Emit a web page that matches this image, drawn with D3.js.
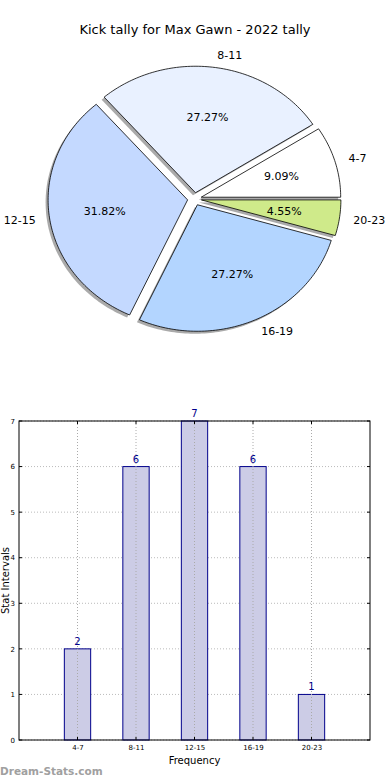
<!DOCTYPE html>
<html>
<head>
<meta charset="utf-8">
<script src="https://cdn.jsdelivr.net/npm/d3@7"></script>
<style>
  body { margin: 0; background: #fff; }
  svg { display: block; font-family: "DejaVu Sans", sans-serif; }
</style>
</head>
<body>
<div id="chart"></div>
<script>
// chart data
const categories = ["4-7", "8-11", "12-15", "16-19", "20-23"];
const counts = [2, 6, 7, 6, 1];
const sliceColors = ["#ffffff", "#e9f1ff", "#c4d9ff", "#b3d5ff", "#cfea8a"];
const yTicks = [0, 1, 2, 3, 4, 5, 6, 7];

const W = 390, H = 780;
const svg = d3.select("#chart").append("svg")
    .attr("width", W)
    .attr("height", H);

// title
svg.append("text")
    .attr("x", 195)
    .attr("y", 34)
    .attr("text-anchor", "middle")
    .style("font-size", "13px")
    .text("Kick tally for Max Gawn - 2022 tally");

// ---- pie (matplotlib style: starts at east, counter-clockwise, elliptical) ----
const cx = 194.5, cy = 199, rx = 139.5, ry = 126.5, explode = 0.05;
const total = d3.sum(counts);

// d3.pie just gives the angular spans; read them as ccw from east
const pie = d3.pie().sort(null).value(d => d)
    .startAngle(0).endAngle(2 * Math.PI);
const arcs = pie(counts);

// wedge on the unit circle, stretched to the ellipse
function wedgePath(a0, a1) {
    const pts = [[0, 0]];
    const n = Math.max(8, Math.ceil((a1 - a0) / 0.02));
    for (let i = 0; i <= n; i++) {
        const a = a0 + (a1 - a0) * i / n;
        pts.push([Math.cos(a), Math.sin(a)]);
    }
    return d3.line().x(p => p[0] * rx).y(p => -p[1] * ry).curve(d3.curveLinearClosed)(pts);
}

const slices = arcs.map((d, i) => {
    const a0 = d.startAngle, a1 = d.endAngle;
    return { i, a0, a1, mid: (a0 + a1) / 2, value: d.value };
});

const pieG = svg.append("g");

// shadows first
slices.forEach(s => {
    const ox = explode * rx * Math.cos(s.mid), oy = -explode * ry * Math.sin(s.mid);
    pieG.append("path")
        .attr("transform", `translate(${cx + ox - 2.5},${cy + oy + 2.5})`)
        .attr("d", wedgePath(s.a0, s.a1))
        .attr("fill", "#555")
        .attr("opacity", 0.5);
});

slices.forEach(s => {
    const ox = explode * rx * Math.cos(s.mid), oy = -explode * ry * Math.sin(s.mid);
    pieG.append("path")
        .attr("transform", `translate(${cx + ox},${cy + oy})`)
        .attr("d", wedgePath(s.a0, s.a1))
        .attr("fill", sliceColors[s.i])
        .attr("stroke", "#000")
        .attr("stroke-width", 0.8);
});

// labels and percentages
slices.forEach(s => {
    const c = Math.cos(s.mid), sn = Math.sin(s.mid);
    pieG.append("text")
        .attr("x", cx + (1.1 + explode) * rx * c)
        .attr("y", cy - (1.1 + explode) * ry * sn)
        .attr("dy", "0.35em")
        .attr("text-anchor", c > 0 ? "start" : "end")
        .style("font-size", "11px")
        .text(categories[s.i]);

    pieG.append("text")
        .attr("x", cx + (0.6 + explode) * rx * c)
        .attr("y", cy - (0.6 + explode) * ry * sn)
        .attr("dy", "0.35em")
        .attr("text-anchor", "middle")
        .style("font-size", "11px")
        .text((s.value / total * 100).toFixed(2) + "%");
});

// ---- bar chart ----
const pL = 19, pR = 370, pT = 421, pB = 740;
const x = d3.scaleLinear().domain([-1, 5]).range([pL, pR]);
const y = d3.scaleLinear().domain([0, 7]).range([pB, pT]);
const barW = x(0.45) - x(0);

const barG = svg.append("g");

// horizontal grid
barG.selectAll(".hgrid").data(yTicks).enter().append("line")
    .attr("x1", pL).attr("x2", pR)
    .attr("y1", d => y(d)).attr("y2", d => y(d))
    .attr("stroke", "#bbb")
    .attr("stroke-dasharray", "1,2");

// bars
barG.selectAll(".bar").data(counts).enter().append("rect")
    .attr("x", (d, i) => x(i) - barW / 2)
    .attr("y", d => y(d))
    .attr("width", barW)
    .attr("height", d => y(0) - y(d))
    .attr("fill", "#cccce6")
    .attr("stroke", "#00008b")
    .attr("stroke-width", 1);

// vertical grid drawn over the bars
barG.selectAll(".vgrid").data(categories).enter().append("line")
    .attr("x1", (d, i) => x(i)).attr("x2", (d, i) => x(i))
    .attr("y1", pT).attr("y2", pB)
    .attr("stroke", "#aaa")
    .attr("stroke-dasharray", "1,2");

// value labels
barG.selectAll(".val").data(counts).enter().append("text")
    .attr("x", (d, i) => x(i))
    .attr("y", d => y(d) - 4)
    .attr("text-anchor", "middle")
    .attr("fill", "#00008b")
    .style("font-size", "10px")
    .text(d => d);

// frame
barG.append("rect")
    .attr("x", pL).attr("y", pT)
    .attr("width", pR - pL).attr("height", pB - pT)
    .attr("fill", "none")
    .attr("stroke", "#000")
    .attr("stroke-width", 1);

// y axis labels
const yAxis = d3.axisLeft(y).tickValues(yTicks).tickFormat(d3.format("d"))
    .tickSize(0).tickPadding(4);
const yg = barG.append("g").attr("transform", `translate(${pL},0)`).call(yAxis);
yg.select(".domain").remove();
yg.selectAll("text").style("font-size", "7px").style("font-family", "DejaVu Sans, sans-serif");
// inward tick marks
barG.selectAll(".ytl").data(yTicks).enter().append("line")
    .attr("x1", pL).attr("x2", pL + 3)
    .attr("y1", d => y(d)).attr("y2", d => y(d))
    .attr("stroke", "#000");
barG.selectAll(".ytr").data(yTicks).enter().append("line")
    .attr("x1", pR).attr("x2", pR - 3)
    .attr("y1", d => y(d)).attr("y2", d => y(d))
    .attr("stroke", "#000");

// x axis labels
const xAxis = d3.axisBottom(x).tickValues(d3.range(categories.length))
    .tickFormat(i => categories[i]).tickSize(0).tickPadding(5);
const xg = barG.append("g").attr("transform", `translate(0,${pB})`).call(xAxis);
xg.select(".domain").remove();
xg.selectAll("text").style("font-size", "7px").style("font-family", "DejaVu Sans, sans-serif");
barG.selectAll(".xtb").data(categories).enter().append("line")
    .attr("x1", (d, i) => x(i)).attr("x2", (d, i) => x(i))
    .attr("y1", pB).attr("y2", pB - 3)
    .attr("stroke", "#000");
barG.selectAll(".xtt").data(categories).enter().append("line")
    .attr("x1", (d, i) => x(i)).attr("x2", (d, i) => x(i))
    .attr("y1", pT).attr("y2", pT + 3)
    .attr("stroke", "#000");

// axis titles
svg.append("text")
    .attr("x", (pL + pR) / 2)
    .attr("y", 764)
    .attr("text-anchor", "middle")
    .style("font-size", "10px")
    .text("Frequency");

svg.append("text")
    .attr("transform", `translate(8.5,${(pT + pB) / 2}) rotate(-90)`)
    .attr("text-anchor", "middle")
    .style("font-size", "10px")
    .text("Stat Intervals");

// watermark
svg.append("text")
    .attr("x", 0)
    .attr("y", 775)
    .attr("fill", "#a0a0a0")
    .style("font-size", "10.5px")
    .style("font-weight", "bold")
    .text("Dream-Stats.com");
</script>
</body>
</html>
